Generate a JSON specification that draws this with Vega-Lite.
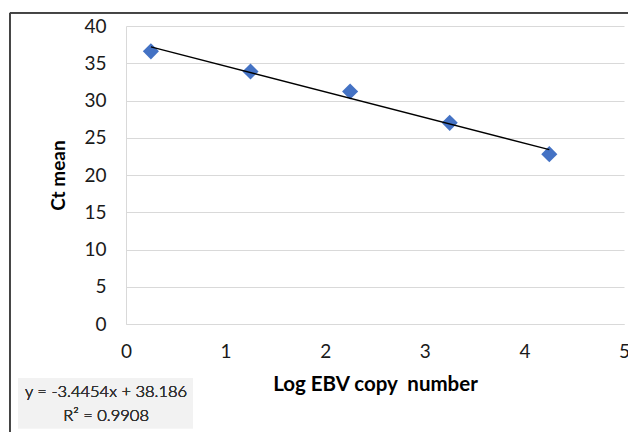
{
  "$schema": "https://vega.github.io/schema/vega-lite/v6.json",
  "autosize": "none",
  "width": 498,
  "height": 298,
  "padding": {"left": 126, "top": 26, "right": 4, "bottom": 108},
  "background": "white",
  "config": {
    "font": "Lato",
    "view": {"stroke": null},
    "axis": {
      "labelFont": "Lato",
      "titleFont": "Lato",
      "labelFontSize": 19,
      "labelColor": "#1a1a1a",
      "titleColor": "#000000",
      "titleFontSize": 19,
      "titleFontWeight": "bold",
      "gridColor": "#d9d9d9",
      "domainColor": "#d9d9d9",
      "ticks": false,
      "labelOverlap": false
    }
  },
  "data": {
    "values": [
      {"logcopy": 0.25, "ct": 36.6},
      {"logcopy": 1.25, "ct": 33.9},
      {"logcopy": 2.25, "ct": 31.2},
      {"logcopy": 3.25, "ct": 27.0},
      {"logcopy": 4.25, "ct": 22.8}
    ]
  },
  "encoding": {
    "x": {
      "field": "logcopy", "type": "quantitative",
      "scale": {"domain": [0, 5], "nice": false},
      "axis": {"title": "Log EBV copy \u00a0number", "titleFontSize": 20.5, "values": [0, 1, 2, 3, 4, 5], "format": "d", "grid": false, "labelPadding": 18, "titlePadding": 13, "labelFlush": false}
    },
    "y": {
      "field": "ct", "type": "quantitative",
      "scale": {"domain": [0, 40], "nice": false},
      "axis": {"title": "Ct mean", "values": [0, 5, 10, 15, 20, 25, 30, 35, 40], "format": "d", "grid": true, "labelPadding": 20, "titlePadding": 15, "labelFlush": false}
    }
  },
  "layer": [
    {
      "mark": {"type": "rect", "fill": null, "stroke": "#404040", "strokeWidth": 1, "clip": false},
      "encoding": {
        "x": {"datum": -1.165, "type": "quantitative"},
        "x2": {"datum": 5.3},
        "y": {"datum": 41.75, "type": "quantitative"},
        "y2": {"datum": -20}
      }
    },
    {
      "mark": {"type": "rect", "fill": "#f2f2f2", "stroke": null, "clip": false},
      "encoding": {
        "x": {"datum": -1.084, "type": "quantitative"},
        "x2": {"datum": 0.673},
        "y": {"datum": -7.25, "type": "quantitative"},
        "y2": {"datum": -14.0}
      }
    },
    {
      "mark": {"type": "text", "font": "Lato", "fontSize": 16.5, "fontWeight": 300, "color": "#333333", "align": "center", "baseline": "middle", "clip": false},
      "encoding": {
        "x": {"datum": -0.2, "type": "quantitative"},
        "y": {"datum": -9.1, "type": "quantitative"},
        "text": {"value": "y = -3.4454x + 38.186"}
      }
    },
    {
      "mark": {"type": "text", "font": "Lato", "fontSize": 16.5, "fontWeight": 300, "color": "#333333", "align": "center", "baseline": "middle", "clip": false},
      "encoding": {
        "x": {"datum": -0.2, "type": "quantitative"},
        "y": {"datum": -12.4, "type": "quantitative"},
        "text": {"value": "R² = 0.9908"}
      }
    },
    {
      "mark": {"type": "point", "shape": "diamond", "filled": true, "color": "#4472C4", "size": 260, "opacity": 1}
    },
    {
      "transform": [
        {"regression": "ct", "on": "logcopy", "extent": [0.25, 4.25]}
      ],
      "mark": {"type": "line", "color": "#000000", "strokeWidth": 1.3}
    }
  ]
}
